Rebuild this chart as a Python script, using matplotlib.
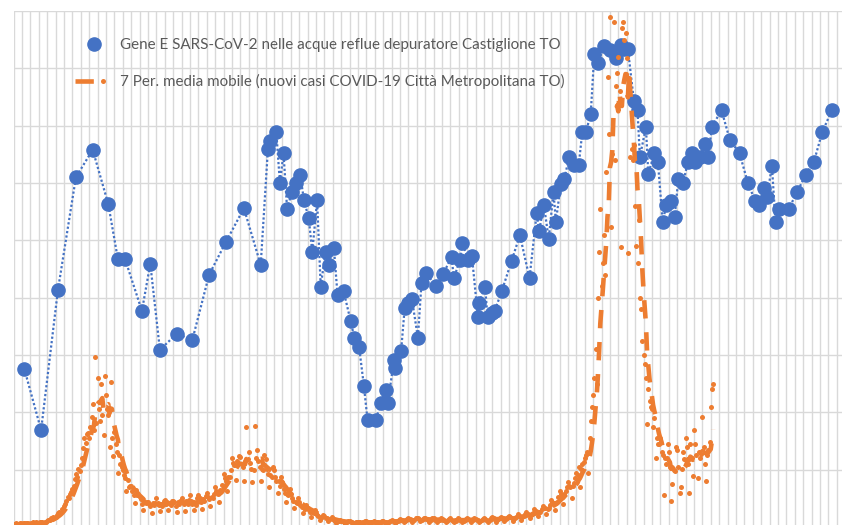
import numpy as np
import pandas as pd
import matplotlib
matplotlib.use("Agg")
from matplotlib import pyplot as plt
from matplotlib.lines import Line2D
from matplotlib.legend_handler import HandlerTuple

# Gene E nelle acque reflue (depuratore Castiglione TO) - giorno di prelievo
giorni_blu = [9, 23, 37, 52, 66, 79, 87, 93, 107, 114, 122, 136, 149, 163, 177, 192,
              206, 212, 214, 219, 222, 225, 228, 232, 235, 239, 242, 246, 249, 253, 256,
              260, 263, 267, 270, 275, 281, 284, 288, 292, 295, 302, 306, 310, 312, 317,
              318, 323, 326, 329, 332, 337, 340, 344, 352, 358, 365, 367, 372, 374, 379,
              382, 387, 388, 393, 395, 399, 401, 407, 415, 422, 430, 436, 438, 442, 446,
              450, 452, 456, 459, 463, 467, 471, 474, 477, 481, 484, 487, 492, 497, 502,
              506, 509, 512, 517, 520, 522, 527, 529, 534, 537, 541, 544, 548, 551, 554,
              558, 562, 565, 568, 572, 576, 579, 582, 590, 597, 605, 612, 618, 621, 625,
              628, 632, 635, 638, 646, 653, 660, 667, 674, 682]
gene_e = [2.76, 1.69, 4.13, 6.10, 6.58, 5.63, 4.67, 4.67, 3.77, 4.59, 3.09, 3.37, 3.26, 4.40, 4.97, 5.56,
          4.57, 6.59, 6.73, 6.89, 6.00, 6.52, 5.55, 5.84, 6.00, 6.14, 5.70, 5.39, 4.80, 5.70, 4.19,
          4.80, 4.57, 4.87, 4.05, 4.12, 3.59, 3.30, 3.14, 2.46, 1.87, 1.87, 2.16, 2.39, 2.16, 2.91,
          2.77, 3.07, 3.82, 3.91, 3.98, 3.30, 4.26, 4.43, 4.20, 4.41, 4.71, 4.34, 4.66, 4.95, 4.66,
          4.73, 3.66, 3.91, 4.19, 3.66, 3.73, 3.77, 4.12, 4.64, 5.09, 4.34, 5.48, 5.16, 5.62, 5.02,
          5.84, 5.32, 5.98, 6.07, 6.45, 6.31, 6.31, 6.89, 6.89, 7.20, 8.25, 8.09, 8.39, 8.32, 8.18,
          8.41, 8.34, 8.34, 7.43, 7.27, 6.45, 6.98, 6.16, 6.52, 6.37, 5.32, 5.62, 5.69, 5.41, 6.07,
          6.00, 6.37, 6.52, 6.37, 6.45, 6.68, 6.45, 6.98, 7.27, 6.75, 6.52, 6.00, 5.69, 5.62, 5.91,
          5.76, 6.30, 5.32, 5.55, 5.55, 5.84, 6.14, 6.37, 6.89, 7.27]

# nuovi casi giornalieri Citta' Metropolitana TO (migliaia), una riga per settimana
casi = [
    0.05, 0.06, 0.07, 0.05, 0.06, 0.07, 0.06,
    0.06, 0.05, 0.07, 0.06, 0.07, 0.06, 0.05,
    0.06, 0.07, 0.08, 0.07, 0.06, 0.08, 0.07,
    0.07, 0.08, 0.09, 0.08, 0.07, 0.09, 0.08,
    0.10, 0.12, 0.13, 0.15, 0.14, 0.17, 0.16,
    0.18, 0.21, 0.24, 0.26, 0.25, 0.31, 0.30,
    0.36, 0.40, 0.46, 0.52, 0.50, 0.58, 0.61,
    0.66, 0.72, 0.84, 0.92, 0.88, 1.02, 0.98,
    1.08, 1.20, 1.38, 1.55, 1.47, 1.62, 1.64,
    1.55, 1.75, 1.92, 2.15, 1.70, 2.97, 1.82,
    2.60, 2.05, 1.85, 2.50, 1.95, 1.60, 2.64,
    2.30, 2.05, 1.95, 1.40, 2.53, 1.55, 1.24,
    1.65, 1.45, 1.30, 0.95, 1.25, 1.10, 1.05,
    1.00, 0.90, 0.85, 0.62, 0.82, 0.70, 0.71,
    0.72, 0.62, 0.55, 0.42, 0.65, 0.55, 0.55,
    0.52, 0.48, 0.40, 0.30, 0.45, 0.42, 0.44,
    0.44, 0.40, 0.36, 0.25, 0.42, 0.38, 0.41,
    0.50, 0.42, 0.38, 0.28, 0.40, 0.36, 0.46,
    0.47, 0.40, 0.44, 0.30, 0.42, 0.38, 0.46,
    0.45, 0.43, 0.37, 0.26, 0.44, 0.40, 0.45,
    0.50, 0.44, 0.40, 0.28, 0.45, 0.40, 0.47,
    0.56, 0.45, 0.40, 0.30, 0.42, 0.38, 0.50,
    0.55, 0.50, 0.44, 0.32, 0.48, 0.46, 0.54,
    0.60, 0.52, 0.48, 0.36, 0.53, 0.50, 0.58,
    0.70, 0.62, 0.58, 0.44, 0.64, 0.62, 0.74,
    0.92, 0.86, 0.80, 0.62, 0.88, 0.88, 0.99,
    1.20, 1.12, 1.08, 0.82, 1.15, 1.10, 1.23,
    1.22, 1.10, 1.05, 0.80, 1.15, 1.75, 1.19,
    1.30, 1.12, 1.02, 0.78, 1.00, 1.77, 1.20,
    1.35, 1.15, 1.05, 0.80, 1.02, 1.00, 1.26,
    1.18, 1.02, 0.92, 0.70, 0.90, 0.88, 1.05,
    1.00, 0.88, 0.80, 0.60, 0.80, 0.72, 0.87,
    0.78, 0.66, 0.60, 0.44, 0.58, 0.55, 0.66,
    0.58, 0.50, 0.45, 0.33, 0.44, 0.42, 0.50,
    0.44, 0.38, 0.35, 0.25, 0.33, 0.32, 0.38,
    0.34, 0.30, 0.27, 0.18, 0.26, 0.24, 0.30,
    0.24, 0.21, 0.19, 0.13, 0.18, 0.17, 0.21,
    0.19, 0.16, 0.15, 0.10, 0.14, 0.14, 0.17,
    0.14, 0.12, 0.11, 0.07, 0.10, 0.10, 0.13,
    0.11, 0.10, 0.09, 0.06, 0.08, 0.08, 0.11,
    0.10, 0.09, 0.08, 0.05, 0.07, 0.08, 0.09,
    0.09, 0.08, 0.08, 0.06, 0.08, 0.07, 0.10,
    0.10, 0.08, 0.07, 0.05, 0.08, 0.08, 0.10,
    0.09, 0.09, 0.08, 0.05, 0.07, 0.08, 0.10,
    0.11, 0.09, 0.09, 0.06, 0.08, 0.09, 0.11,
    0.12, 0.10, 0.10, 0.07, 0.09, 0.10, 0.12,
    0.14, 0.13, 0.12, 0.08, 0.11, 0.12, 0.14,
    0.15, 0.14, 0.13, 0.09, 0.12, 0.13, 0.15,
    0.16, 0.15, 0.14, 0.10, 0.13, 0.14, 0.16,
    0.15, 0.14, 0.13, 0.09, 0.12, 0.13, 0.15,
    0.16, 0.13, 0.12, 0.09, 0.13, 0.12, 0.16,
    0.14, 0.13, 0.12, 0.08, 0.11, 0.12, 0.14,
    0.15, 0.12, 0.11, 0.08, 0.12, 0.11, 0.15,
    0.14, 0.12, 0.12, 0.08, 0.11, 0.13, 0.14,
    0.15, 0.14, 0.13, 0.09, 0.12, 0.13, 0.15,
    0.14, 0.13, 0.12, 0.08, 0.11, 0.12, 0.14,
    0.15, 0.14, 0.13, 0.09, 0.12, 0.13, 0.15,
    0.17, 0.15, 0.14, 0.09, 0.13, 0.14, 0.16,
    0.18, 0.16, 0.15, 0.10, 0.14, 0.15, 0.17,
    0.19, 0.17, 0.16, 0.11, 0.15, 0.16, 0.18,
    0.22, 0.20, 0.19, 0.13, 0.18, 0.19, 0.22,
    0.26, 0.23, 0.22, 0.15, 0.21, 0.22, 0.25,
    0.31, 0.28, 0.27, 0.19, 0.26, 0.27, 0.31,
    0.37, 0.34, 0.33, 0.23, 0.32, 0.33, 0.39,
    0.47, 0.44, 0.42, 0.30, 0.42, 0.44, 0.52,
    0.62, 0.58, 0.56, 0.40, 0.58, 0.62, 0.70,
    0.78, 0.72, 0.70, 0.50, 0.72, 0.76, 0.86,
    0.95, 0.90, 1.05, 0.70, 1.02, 1.10, 1.14,
    1.20, 1.25, 1.30, 0.95, 1.55, 1.85, 2.10,
    2.30, 2.60, 3.10, 2.50, 4.00, 4.80, 5.55,
    4.20, 4.60, 5.10, 4.40, 6.20, 7.85, 6.85,
    8.90, 5.23, 6.50, 8.80, 6.40, 7.70, 7.92,
    8.20, 7.60, 4.88, 8.70, 8.80, 8.50, 8.62,
    8.18, 4.78, 7.83, 6.45, 6.60, 6.40, 6.66,
    5.60, 4.90, 4.60, 5.36, 4.00, 3.80, 3.24,
    3.00, 2.85, 2.60, 1.80, 2.40, 2.20, 2.09,
    2.05, 1.75, 1.90, 1.20, 1.55, 1.45, 1.44,
    1.55, 1.30, 1.25, 0.55, 1.20, 1.10, 1.45,
    1.30, 1.05, 0.45, 0.75, 1.00, 0.98, 1.40,
    1.35, 1.05, 0.60, 0.70, 1.02, 1.30, 1.19,
    1.55, 1.40, 1.10, 0.60, 1.45, 1.20, 0.89,
    1.70, 1.45, 1.25, 0.85, 1.30, 1.20, 1.28,
    1.92, 1.40, 1.10, 0.80, 1.25, 1.35, 1.49,
    2.10, 2.40, 2.50,
]

blu = "#4472C4"
arancio = "#ED7D31"
etichetta_blu = "Gene E SARS-CoV-2 nelle acque reflue depuratore Castiglione TO"
etichetta_media = "7 Per. media mobile (nuovi casi COVID-19 Città Metropolitana TO)"

giorni = np.arange(len(casi))
media = pd.Series(casi).rolling(7).mean()

fig = plt.figure(figsize=(8.48, 5.25), dpi=100)
ax = fig.add_axes([13.5/848, -2/525, 828/848, 516/525])

ax.plot(giorni_blu, gene_e, color=blu, ls=(0, (1, 1)), lw=1.6,
        marker='o', ms=9.5, mec=blu, zorder=3)
ax.plot(giorni, casi, 'o', color=arancio, ms=3.6, mew=0, zorder=4)
ax.plot(giorni, media, color=arancio, ls=(0, (4, 3)), lw=3.3, zorder=5)

ax.set_xlim(0, 690)
ax.set_ylim(0, 9)
ax.set_xticks(np.arange(0, 690, 7))
ax.set_yticks(np.arange(0, 10))
ax.grid(True, color="#d9d9d9", lw=1.0)
ax.set_axisbelow(True)
ax.tick_params(length=0, labelbottom=False, labelleft=False)
for s in ax.spines.values():
    s.set_visible(False)

h1 = Line2D([], [], ls='none', marker='o', ms=9.5, color=blu)
h2a = Line2D([], [], color=arancio, lw=3.3, ls=(0, (4, 3)))
h2b = Line2D([], [], ls='none', marker='o', ms=3.6, mew=0, color=arancio)
fig.legend([h1, (h2a, h2b)], [etichetta_blu, etichetta_media],
           handler_map={tuple: HandlerTuple(ndivide=None, pad=0)},
           loc='upper left', bbox_to_anchor=(75/848, 1 - 38/525),
           frameon=False, borderpad=0, borderaxespad=0,
           handlelength=2.5, handletextpad=0.45, labelspacing=1.45,
           prop={'family': 'Lato', 'size': 10.9}, labelcolor="#595959")

fig.savefig("out.png", dpi=100)
